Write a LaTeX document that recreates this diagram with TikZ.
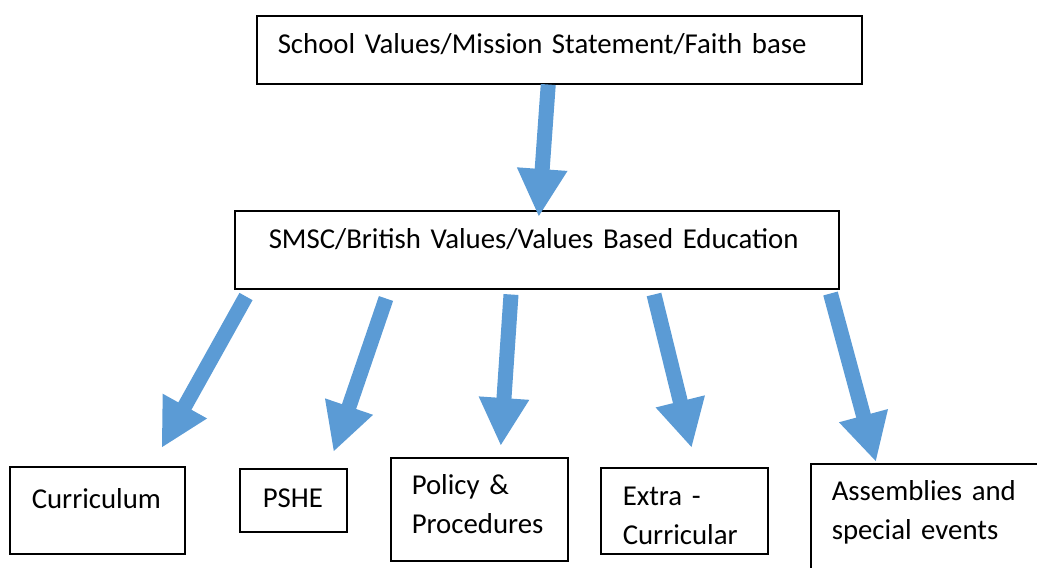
\documentclass[tikz,border=0pt]{standalone}
\usepackage{fontspec}
\setmainfont{Carlito}
\usetikzlibrary{arrows.meta}
\definecolor{arrowblue}{HTML}{5B9BD5}
\tikzset{
  box/.style={draw, line width=1.5pt, anchor=north west, inner ysep=0pt,
    align=left, font=\fontsize{28.8}{39}\selectfont},
  bigarrow/.style={draw=arrowblue, line width=15pt,
    -{Triangle[width=47pt,length=48pt]}}
}
\begin{document}
\begin{tikzpicture}[x=1pt,y=-1pt]

\clip (0,0) rectangle (1037,568);

% Boxes
\node[box, inner xsep=21pt, text width=563pt, text height=38pt, text depth=30pt] (values) at (256,15) {School Values/Mission Statement/Faith base};
\node[box, inner xsep=34pt, text width=536pt, text height=38pt, text depth=40pt] (smsc) at (234,210) {\mbox{SMSC/British Values/Values Based Education}};
\node[box, inner xsep=22pt, text width=131pt, text height=42pt, text depth=45pt] (curr) at (9,466) {Curriculum};
\node[box, inner xsep=23pt, text width=61pt, text height=39pt, text depth=24pt] (pshe) at (239,468) {PSHE};
\node[box, inner xsep=21pt, text width=135pt, text height=37pt, text depth=66pt] (policy) at (390,457) {Policy \&\\Procedures};
\node[box, inner xsep=22pt, text width=123pt, text height=38pt, text depth=48pt] (extra) at (600,467) {Extra -\\Curricular};
\node[box, inner xsep=21pt, text width=200pt, text height=37pt, text depth=140pt] (assem) at (810,463) {Assemblies and\\special events};

% Arrows
\draw[bigarrow] ([shift={(-11,0)}]values.south) -- ([shift={(2,7)}]smsc.north);
\draw[bigarrow] ([shift={(12,7)}]smsc.south west) -- ([shift={(-24,-18)}]curr.north east);
\draw[bigarrow] ([shift={(152,9)}]smsc.south west) -- ([shift={(-14,-16)}]pshe.north east);
\draw[bigarrow] ([shift={(277,5)}]smsc.south west) -- ([shift={(21.5,-11)}]policy.north);
\draw[bigarrow] ([shift={(420,5)}]smsc.south west) -- ([shift={(7.5,-19)}]extra.north);
\draw[bigarrow] ([shift={(-9,4)}]smsc.south east) -- ([shift={(66,-1)}]assem.north west);

\end{tikzpicture}
\end{document}
